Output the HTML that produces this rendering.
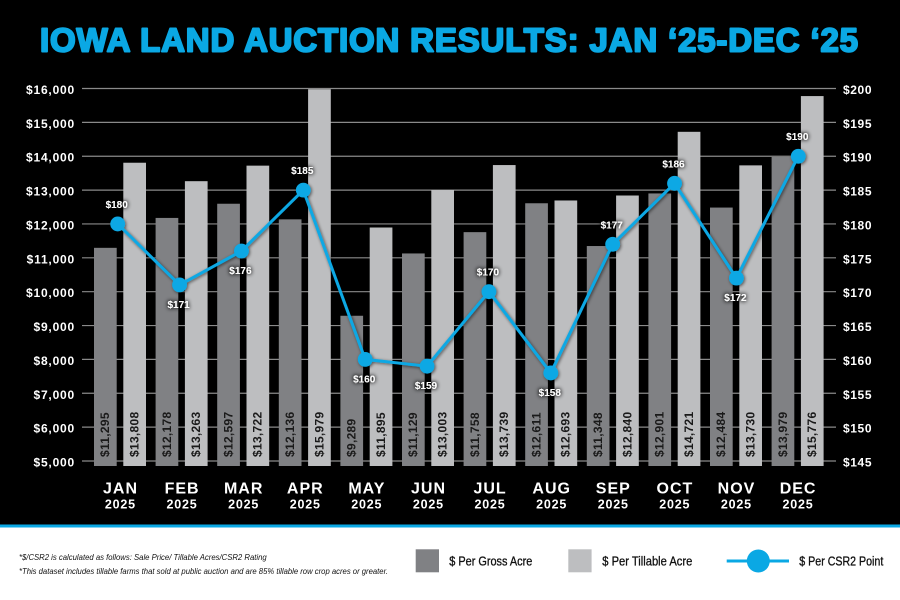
<!DOCTYPE html>
<html><head><meta charset="utf-8"><style>
html,body{margin:0;padding:0;background:#fff;}
body{width:900px;height:600px;overflow:hidden;}
svg{display:block;}
</style></head><body>
<svg width="900" height="600" viewBox="0 0 900 600" xmlns="http://www.w3.org/2000/svg" font-family="'Liberation Sans', sans-serif">
<defs>
<filter id="glow" x="-50%" y="-80%" width="200%" height="260%">
<feGaussianBlur in="SourceAlpha" stdDeviation="2.2"/>
<feComponentTransfer><feFuncA type="linear" slope="1.6"/></feComponentTransfer>
<feMerge><feMergeNode/><feMergeNode in="SourceGraphic"/></feMerge>
</filter>
<filter id="lsh" x="-10%" y="-10%" width="120%" height="120%">
<feGaussianBlur in="SourceAlpha" stdDeviation="1.5"/>
<feOffset dx="1" dy="1"/>
<feComponentTransfer><feFuncA type="linear" slope="0.6"/></feComponentTransfer>
<feMerge><feMergeNode/><feMergeNode in="SourceGraphic"/></feMerge>
</filter>
</defs>
<rect x="0" y="0" width="900" height="525" fill="#000"/>
<rect x="0" y="524.5" width="900" height="3" fill="#0aa8e4"/>
<rect x="0" y="527.5" width="900" height="72.5" fill="#fff"/>

<text x="40" y="51.7" font-size="33" font-weight="bold" fill="#0aa8e4" stroke="#0aa8e4" stroke-width="2" stroke-linejoin="round" textLength="818" lengthAdjust="spacing">IOWA LAND AUCTION RESULTS: JAN ‘25-DEC ‘25</text>

<g stroke="#8a8a8a" stroke-width="1.2">
<line x1="82" y1="461" x2="836" y2="461"/>
<line x1="82" y1="427.14" x2="836" y2="427.14"/>
<line x1="82" y1="393.27" x2="836" y2="393.27"/>
<line x1="82" y1="359.41" x2="836" y2="359.41"/>
<line x1="82" y1="325.54" x2="836" y2="325.54"/>
<line x1="82" y1="291.68" x2="836" y2="291.68"/>
<line x1="82" y1="257.82" x2="836" y2="257.82"/>
<line x1="82" y1="223.95" x2="836" y2="223.95"/>
<line x1="82" y1="190.09" x2="836" y2="190.09"/>
<line x1="82" y1="156.22" x2="836" y2="156.22"/>
<line x1="82" y1="122.36" x2="836" y2="122.36"/>
<line x1="82" y1="88.5" x2="836" y2="88.5"/>
</g>

<g font-size="12" font-weight="bold" fill="#fff" text-anchor="end" letter-spacing="0.8">
<text x="75" y="466.5">$5,000</text>
<text x="75" y="432.6">$6,000</text>
<text x="75" y="398.8">$7,000</text>
<text x="75" y="364.9">$8,000</text>
<text x="75" y="331">$9,000</text>
<text x="75" y="297.2">$10,000</text>
<text x="75" y="263.3">$11,000</text>
<text x="75" y="229.5">$12,000</text>
<text x="75" y="195.6">$13,000</text>
<text x="75" y="161.7">$14,000</text>
<text x="75" y="127.9">$15,000</text>
<text x="75" y="94">$16,000</text>
</g>
<g font-size="12" font-weight="bold" fill="#fff" letter-spacing="0.6">
<text x="843" y="466.5">$145</text>
<text x="843" y="432.6">$150</text>
<text x="843" y="398.8">$155</text>
<text x="843" y="364.9">$160</text>
<text x="843" y="331">$165</text>
<text x="843" y="297.2">$170</text>
<text x="843" y="263.3">$175</text>
<text x="843" y="229.5">$180</text>
<text x="843" y="195.6">$185</text>
<text x="843" y="161.7">$190</text>
<text x="843" y="127.9">$195</text>
<text x="843" y="94">$200</text>
</g>

<g fill="#808184">
<rect x="94" y="247.83" width="22.7" height="218.17"/>
<rect x="155.6" y="217.92" width="22.7" height="248.08"/>
<rect x="217.2" y="203.74" width="22.7" height="262.26"/>
<rect x="278.8" y="219.35" width="22.7" height="246.65"/>
<rect x="340.4" y="315.76" width="22.7" height="150.24"/>
<rect x="402" y="253.45" width="22.7" height="212.55"/>
<rect x="463.6" y="232.15" width="22.7" height="233.85"/>
<rect x="525.2" y="203.26" width="22.7" height="262.74"/>
<rect x="586.8" y="246.03" width="22.7" height="219.97"/>
<rect x="648.4" y="193.44" width="22.7" height="272.56"/>
<rect x="710" y="207.56" width="22.7" height="258.44"/>
<rect x="771.6" y="156.93" width="22.7" height="309.07"/>
</g>
<g fill="#bdbec0">
<rect x="123.3" y="162.73" width="22.7" height="303.27"/>
<rect x="184.9" y="181.18" width="22.7" height="284.82"/>
<rect x="246.5" y="165.64" width="22.7" height="300.36"/>
<rect x="308.1" y="89.21" width="22.7" height="376.79"/>
<rect x="369.7" y="227.51" width="22.7" height="238.49"/>
<rect x="431.3" y="189.99" width="22.7" height="276.01"/>
<rect x="492.9" y="165.06" width="22.7" height="300.94"/>
<rect x="554.5" y="200.48" width="22.7" height="265.52"/>
<rect x="616.1" y="195.51" width="22.7" height="270.49"/>
<rect x="677.7" y="131.81" width="22.7" height="334.19"/>
<rect x="739.3" y="165.37" width="22.7" height="300.63"/>
<rect x="800.9" y="96.08" width="22.7" height="369.92"/>
</g>

<g font-size="12" font-weight="bold" fill="#1a1a1a" letter-spacing="0.3">
<text transform="translate(109.15,457) rotate(-90)">$11,295</text>
<text transform="translate(138.45,457) rotate(-90)">$13,808</text>
<text transform="translate(170.75,457) rotate(-90)">$12,178</text>
<text transform="translate(200.05,457) rotate(-90)">$13,263</text>
<text transform="translate(232.35,457) rotate(-90)">$12,597</text>
<text transform="translate(261.65,457) rotate(-90)">$13,722</text>
<text transform="translate(293.95,457) rotate(-90)">$12,136</text>
<text transform="translate(323.25,457) rotate(-90)">$15,979</text>
<text transform="translate(355.55,457) rotate(-90)">$9,289</text>
<text transform="translate(384.85,457) rotate(-90)">$11,895</text>
<text transform="translate(417.15,457) rotate(-90)">$11,129</text>
<text transform="translate(446.45,457) rotate(-90)">$13,003</text>
<text transform="translate(478.75,457) rotate(-90)">$11,758</text>
<text transform="translate(508.05,457) rotate(-90)">$13,739</text>
<text transform="translate(540.35,457) rotate(-90)">$12,611</text>
<text transform="translate(569.65,457) rotate(-90)">$12,693</text>
<text transform="translate(601.95,457) rotate(-90)">$11,348</text>
<text transform="translate(631.25,457) rotate(-90)">$12,840</text>
<text transform="translate(663.55,457) rotate(-90)">$12,901</text>
<text transform="translate(692.85,457) rotate(-90)">$14,721</text>
<text transform="translate(725.15,457) rotate(-90)">$12,484</text>
<text transform="translate(754.45,457) rotate(-90)">$13,730</text>
<text transform="translate(786.75,457) rotate(-90)">$13,979</text>
<text transform="translate(816.05,457) rotate(-90)">$15,776</text>
</g>

<g filter="url(#lsh)">
<polyline fill="none" stroke="#0aa8e4" stroke-width="3" stroke-linejoin="round" points="117.7,223.95 179.57,284.91 241.44,251.04 303.31,190.09 365.18,359.41 427.05,366.18 488.92,291.68 550.79,372.95 612.66,244.27 674.53,183.32 736.4,278.13 798.27,156.22"/>
<g fill="#0aa8e4">
<circle cx="117.7" cy="223.95" r="7.4"/>
<circle cx="179.57" cy="284.91" r="7.4"/>
<circle cx="241.44" cy="251.04" r="7.4"/>
<circle cx="303.31" cy="190.09" r="7.4"/>
<circle cx="365.18" cy="359.41" r="7.4"/>
<circle cx="427.05" cy="366.18" r="7.4"/>
<circle cx="488.92" cy="291.68" r="7.4"/>
<circle cx="550.79" cy="372.95" r="7.4"/>
<circle cx="612.66" cy="244.27" r="7.4"/>
<circle cx="674.53" cy="183.32" r="7.4"/>
<circle cx="736.4" cy="278.13" r="7.4"/>
<circle cx="798.27" cy="156.22" r="7.4"/>
</g>
</g>

<g font-size="10" font-weight="bold" fill="#fff" text-anchor="middle" filter="url(#glow)">
<text x="116.7" y="208.2">$180</text>
<text x="178.6" y="307.9">$171</text>
<text x="240.4" y="274">$176</text>
<text x="302.3" y="174.1">$185</text>
<text x="364.2" y="382.4">$160</text>
<text x="426" y="389.2">$159</text>
<text x="487.9" y="275.7">$170</text>
<text x="549.8" y="396">$158</text>
<text x="611.7" y="228.3">$177</text>
<text x="673.5" y="167.3">$186</text>
<text x="735.4" y="301.1">$172</text>
<text x="797.3" y="140.2">$190</text>
</g>

<g font-size="16" font-weight="bold" fill="#fff" text-anchor="middle" letter-spacing="1">
<text x="120.5" y="493.3">JAN</text>
<text x="182.1" y="493.3">FEB</text>
<text x="243.7" y="493.3">MAR</text>
<text x="305.3" y="493.3">APR</text>
<text x="366.9" y="493.3">MAY</text>
<text x="428.5" y="493.3">JUN</text>
<text x="490.1" y="493.3">JUL</text>
<text x="551.7" y="493.3">AUG</text>
<text x="613.3" y="493.3">SEP</text>
<text x="674.9" y="493.3">OCT</text>
<text x="736.5" y="493.3">NOV</text>
<text x="798.1" y="493.3">DEC</text>
</g>
<g font-size="12.5" font-weight="bold" fill="#fff" text-anchor="middle" letter-spacing="0.8">
<text x="120.4" y="508.3">2025</text>
<text x="182" y="508.3">2025</text>
<text x="243.6" y="508.3">2025</text>
<text x="305.2" y="508.3">2025</text>
<text x="366.8" y="508.3">2025</text>
<text x="428.4" y="508.3">2025</text>
<text x="490" y="508.3">2025</text>
<text x="551.6" y="508.3">2025</text>
<text x="613.2" y="508.3">2025</text>
<text x="674.8" y="508.3">2025</text>
<text x="736.4" y="508.3">2025</text>
<text x="798" y="508.3">2025</text>
</g>

<g font-size="8" font-style="italic" fill="#111">
<text x="19" y="560" textLength="247.7" lengthAdjust="spacingAndGlyphs">*$/CSR2 is calculated as follows: Sale Price/ Tillable Acres/CSR2 Rating</text>
<text x="19" y="574" textLength="369" lengthAdjust="spacingAndGlyphs">*This dataset includes tillable farms that sold at public auction and are 85% tillable row crop acres or greater.</text>
</g>

<rect x="415.7" y="549.3" width="23.3" height="23" fill="#808184"/>
<rect x="568.3" y="549.3" width="23.3" height="23" fill="#bdbec0"/>
<line x1="726.7" y1="561" x2="789" y2="561" stroke="#0aa8e4" stroke-width="3"/>
<circle cx="758.3" cy="561" r="11.5" fill="#0aa8e4"/>
<g font-size="12.5" fill="#111" stroke="#111" stroke-width="0.3">
<text x="449.3" y="565.7" textLength="83" lengthAdjust="spacingAndGlyphs">$ Per Gross Acre</text>
<text x="602.3" y="565.7" textLength="90" lengthAdjust="spacingAndGlyphs">$ Per Tillable Acre</text>
<text x="799.3" y="565.7" textLength="84" lengthAdjust="spacingAndGlyphs">$ Per CSR2 Point</text>
</g>
</svg>
</body></html>
